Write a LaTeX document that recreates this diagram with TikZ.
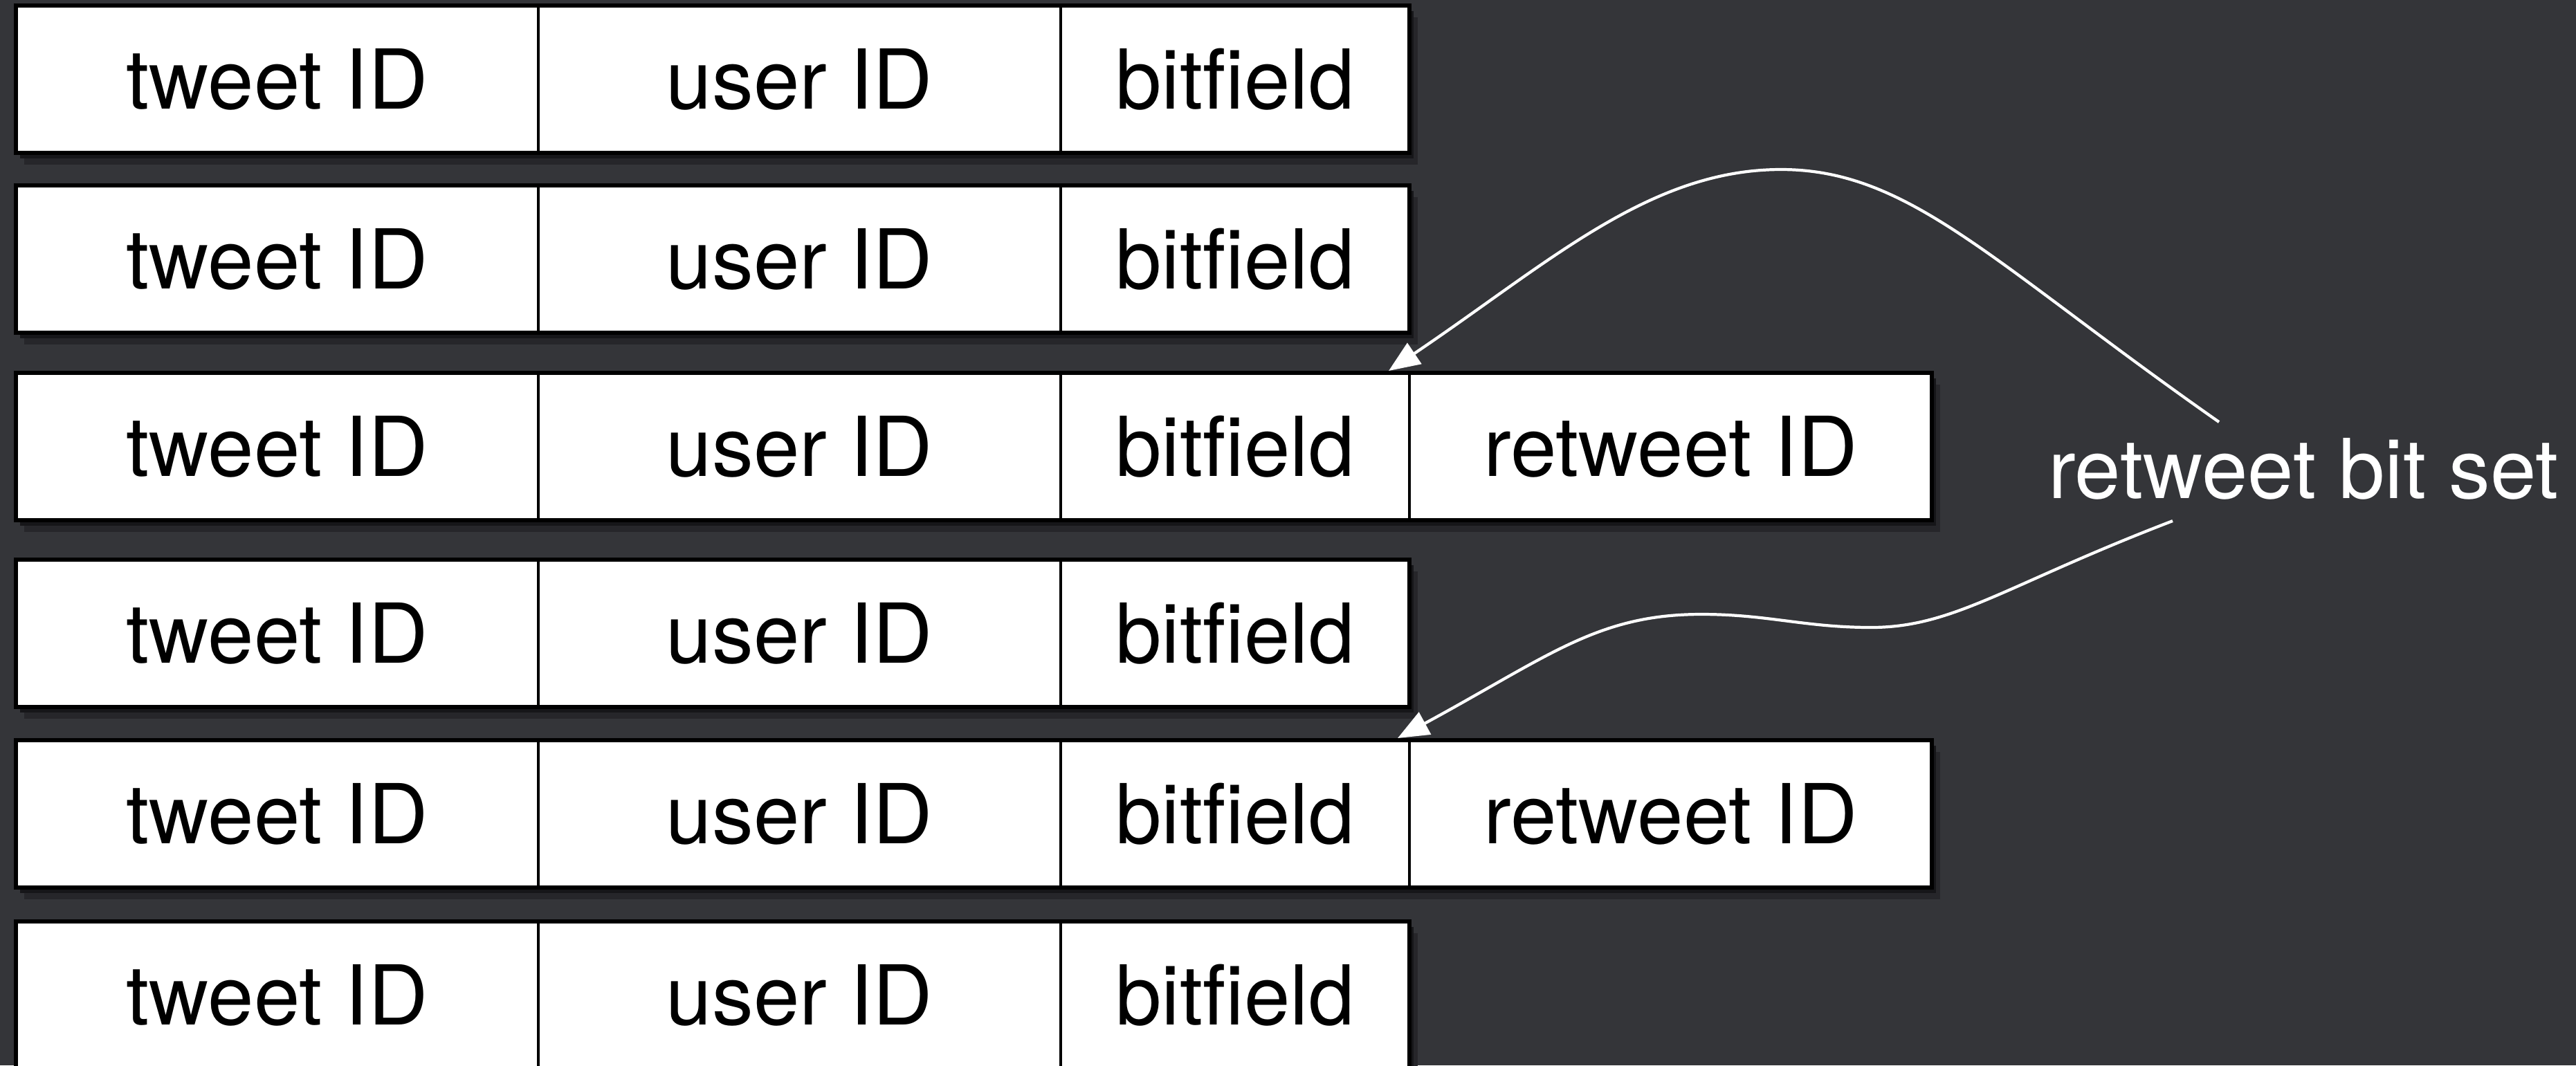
\documentclass[tikz,border=0pt]{standalone}
\usepackage{fontspec}
\setmainfont{TeX Gyre Heros}
\usepackage{tikz}
\usetikzlibrary{positioning, arrows.meta, shadows}
\definecolor{SlateBg}{RGB}{52,53,57}
\definecolor{ShadowSoft}{RGB}{38,38,42}
\definecolor{ShadowTone}{RGB}{22,22,25}
\tikzset{
  cell/.style={draw=black, line width=1pt, fill=white, minimum height=2.13cm,
    inner sep=0pt, outer sep=0pt, text height=0.86cm, text depth=0pt,
    font=\fontsize{34}{40}\selectfont,
    drop shadow={shadow xshift=0.12cm, shadow yshift=-0.17cm, fill=ShadowSoft, opacity=1},
    drop shadow={shadow xshift=0.06cm, shadow yshift=-0.08cm, fill=ShadowTone, opacity=1}},
  widecell/.style={cell, minimum width=7.55cm},
  bitcell/.style={cell, minimum width=5.04cm},
  rowframe/.style={draw=black, line width=1.5pt},
  hint/.style={text=white, font=\fontsize{34}{40}\selectfont, inner sep=0pt},
  markarrow/.style={-{Triangle[length=4.5mm, width=3.6mm]}, white, line width=1.2pt},
}

\begin{document}
\begin{tikzpicture}
  \useasboundingbox (0,0) rectangle (37.23,-15.40);
  \clip (0,0) rectangle (37.23,-15.40);
  \fill[SlateBg] (0,0) rectangle (37.23,-15.40);

  \node[widecell] (t1) at (4.005,-1.145) {tweet ID};
  \node[widecell, right=0pt of t1] (u1) {user ID};
  \node[bitcell, right=0pt of u1] (b1) {bitfield};
  \draw[rowframe] (t1.north west) rectangle (b1.south east);

  \node[widecell] (t2) at (4.005,-3.745) {tweet ID};
  \node[widecell, right=0pt of t2] (u2) {user ID};
  \node[bitcell, right=0pt of u2] (b2) {bitfield};
  \draw[rowframe] (t2.north west) rectangle (b2.south east);

  \node[widecell] (t3) at (4.005,-6.455) {tweet ID};
  \node[widecell, right=0pt of t3] (u3) {user ID};
  \node[bitcell, right=0pt of u3] (b3) {bitfield};
  \node[widecell, right=0pt of b3] (r3) {retweet ID};
  \draw[rowframe] (t3.north west) rectangle (r3.south east);

  \node[widecell] (t4) at (4.005,-9.155) {tweet ID};
  \node[widecell, right=0pt of t4] (u4) {user ID};
  \node[bitcell, right=0pt of u4] (b4) {bitfield};
  \draw[rowframe] (t4.north west) rectangle (b4.south east);

  \node[widecell] (t5) at (4.005,-11.765) {tweet ID};
  \node[widecell, right=0pt of t5] (u5) {user ID};
  \node[bitcell, right=0pt of u5] (b5) {bitfield};
  \node[widecell, right=0pt of b5] (r5) {retweet ID};
  \draw[rowframe] (t5.north west) rectangle (r5.south east);

  \node[widecell] (t6) at (4.005,-14.385) {tweet ID};
  \node[widecell, right=0pt of t6] (u6) {user ID};
  \node[bitcell, right=0pt of u6] (b6) {bitfield};
  \draw[rowframe] (t6.north west) rectangle (b6.south east);

  \node[hint, anchor=base] (bitset) at (33.29,-7.20) {retweet bit set};

  \coordinate (s1) at (32.07,-6.10);
  \coordinate (hump) at (25.74,-2.45);
  \coordinate (e1) at ([xshift=-0.30cm, yshift=0.03cm]b3.north east);
  \coordinate (s2) at (31.40,-7.53);
  \coordinate (trough) at (27.04,-9.07);
  \coordinate (crest) at (24.59,-8.88);
  \coordinate (e2) at ([xshift=-0.17cm, yshift=0.03cm]b5.north east);

  \draw[markarrow] (s1) .. controls +(145:4.0) and +(0:1.86) .. (hump)
    .. controls +(180:1.9) and +(34:2.8) .. (e1);
  \draw[markarrow] (s2) .. controls +(201:2.6) and +(0:1.2) .. (trough)
    to[out=180, in=0] (crest) .. controls +(180:1.5) and +(28.5:2.5) .. (e2);
\end{tikzpicture}
\end{document}
